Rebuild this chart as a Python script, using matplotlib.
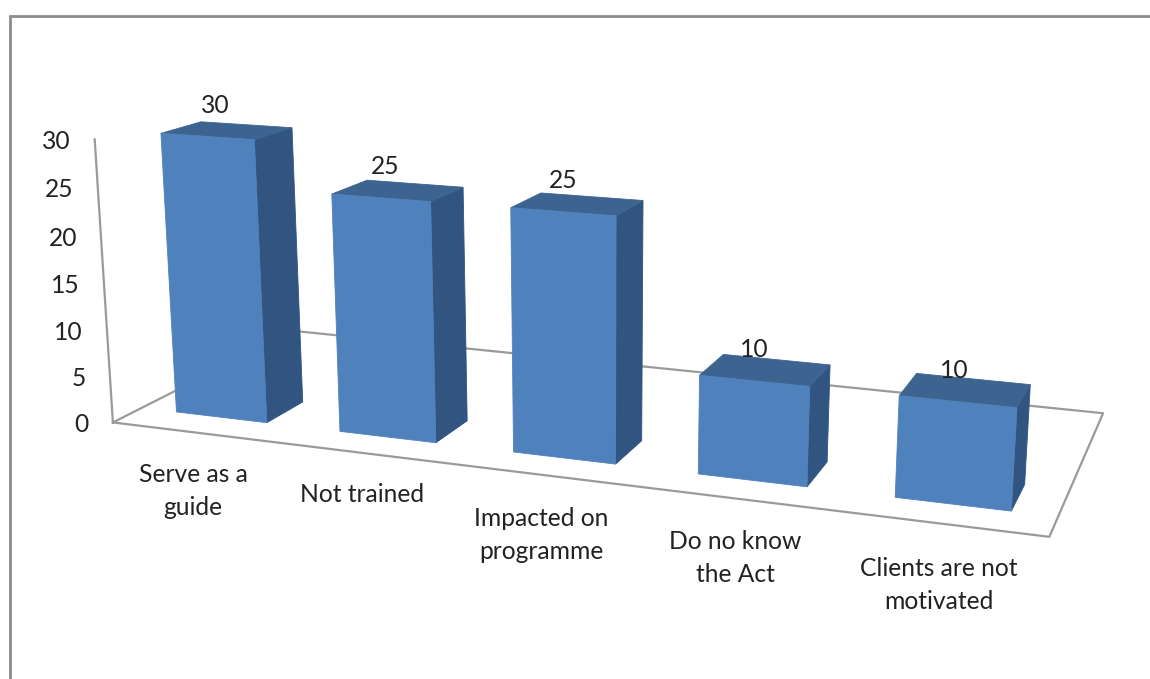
import numpy as np
import matplotlib
matplotlib.use('Agg')
import matplotlib.pyplot as plt

categories = ['Serve as a\nguide', 'Not trained', 'Impacted on\nprogramme', 'Do no know\nthe Act', 'Clients are not\nmotivated']
values = [30, 25, 25, 10, 10]
yticks = [0, 5, 10, 15, 20, 25, 30]

# bar footprint inside one category cell
bar_x0, bar_x1 = 0.22, 0.78


# camera calibration: box coordinates (cat, depth, value) -> image pixels
def calibration(y0, y1):
    return [
        (0, 0, 0, 113, 423), (5, 0, 0, 1048, 538), (5, 1, 0, 1103, 414), (0, 1, 0, 294, 330), (0, 0, 30, 93, 140),
        (bar_x0, y0, 30, 161, 134), (bar_x1, y0, 30, 257, 139), (bar_x1, y1, 30, 293, 128), (bar_x0, y1, 30, 200, 122),
        (bar_x0, y0, 0, 176, 412), (bar_x1, y0, 0, 268, 422), (bar_x1, y1, 0, 302, 403),
        (2 + bar_x0, y0, 25, 510, 207), (2 + bar_x1, y0, 25, 617, 215), (2 + bar_x1, y1, 25, 644, 201), (2 + bar_x0, y1, 25, 539, 193),
        (2 + bar_x0, y0, 0, 513, 452), (2 + bar_x1, y0, 0, 617, 463), (2 + bar_x1, y1, 0, 642, 441),
        (4 + bar_x0, y0, 10, 898, 395), (4 + bar_x1, y0, 10, 1018, 407), (4 + bar_x1, y1, 10, 1031, 385), (4 + bar_x0, y1, 10, 915, 373),
        (4 + bar_x0, y0, 0, 894, 497), (4 + bar_x1, y0, 0, 1013, 511), (4 + bar_x1, y1, 0, 1025, 485),
    ]


def solve(pts):
    A = []
    b = []
    for x, y, z, u, v in pts:
        z = z / 30
        A.append([x, y, z, 1, 0, 0, 0, 0, -u * x, -u * y, -u * z])
        A.append([0, 0, 0, 0, x, y, z, 1, -v * x, -v * y, -v * z])
        b += [u, v]
    m = np.linalg.lstsq(np.array(A, float), np.array(b, float), rcond=None)[0]
    m = np.append(m, 1).reshape(3, 4)
    err = 0
    for x, y, z, u, v in pts:
        p = m @ np.array([x, y, z / 30, 1])
        err += (p[0] / p[2] - u) ** 2 + (p[1] / p[2] - v) ** 2
    return m, err


# depth of the bars is not known, take the one that fits the picture best
best = None
for y0 in np.arange(0.04, 0.5, 0.02):
    for y1 in np.arange(y0 + 0.06, 0.9, 0.02):
        m, err = solve(calibration(y0, y1))
        if best is None or err < best[0]:
            best = (err, m, y0, y1)
err, P, bar_y0, bar_y1 = best


def proj(x, y, z):
    p = P @ np.array([x, y, z / 30, 1])
    return p[0] / p[2], p[1] / p[2]


plt.rcParams['font.family'] = ['Lato', 'DejaVu Sans']
fig = plt.figure(figsize=(11.5, 6.79), dpi=100)
ax = fig.add_axes([0, 0, 1, 1])
ax.set_xlim(0, 1150)
ax.set_ylim(679, 0)
ax.axis('off')

frame = '#8c8c8c'
line = '#9a9a9a'
ax.plot([10, 10, 1150], [679, 16, 16], color=frame, lw=2, solid_joinstyle='miter')

floor = [proj(0, 0, 0), proj(5, 0, 0), proj(5, 1, 0), proj(0, 1, 0), proj(0, 0, 0)]
ax.plot(*zip(*floor), color=line, lw=1.6, zorder=1)
ax.plot(*zip(proj(0, 0, 0), proj(0, 0, 30)), color=line, lw=1.6, zorder=1)

text_col = '#222222'
for t in yticks:
    x, y = proj(0, 0, t)
    ax.text(x - 24, y + 2, str(t), ha='right', va='center', fontsize=17.7, color=text_col)

front = '#4f81bd'
side = '#325480'
top = '#3d6491'
label_dx = [8, 4, 0, 0, -3]
for i, v in enumerate(values):
    x0, x1 = i + bar_x0, i + bar_x1
    ax.fill(*zip(proj(x1, bar_y0, 0), proj(x1, bar_y1, 0), proj(x1, bar_y1, v), proj(x1, bar_y0, v)), fc=side, ec=side, lw=0.6, zorder=2)
    ax.fill(*zip(proj(x0, bar_y0, v), proj(x1, bar_y0, v), proj(x1, bar_y1, v), proj(x0, bar_y1, v)), fc=top, ec=top, lw=0.6, zorder=2)
    ax.fill(*zip(proj(x0, bar_y0, 0), proj(x1, bar_y0, 0), proj(x1, bar_y0, v), proj(x0, bar_y0, v)), fc=front, ec=front, lw=0.6, zorder=3)
    lx, ly = proj(i + 0.5, bar_y0, v)
    ax.text(lx + label_dx[i], ly - 31, str(v), ha='center', va='center', fontsize=17.7, color=text_col, zorder=4)

cat_x = [193, 362, 541, 735, 939]
cat_y = [491, 495, 535, 558, 585]
for name, x, y in zip(categories, cat_x, cat_y):
    ax.text(x, y, name, ha='center', va='center', fontsize=17.7, color=text_col, linespacing=1.5)

fig.savefig('out.png', dpi=100)
